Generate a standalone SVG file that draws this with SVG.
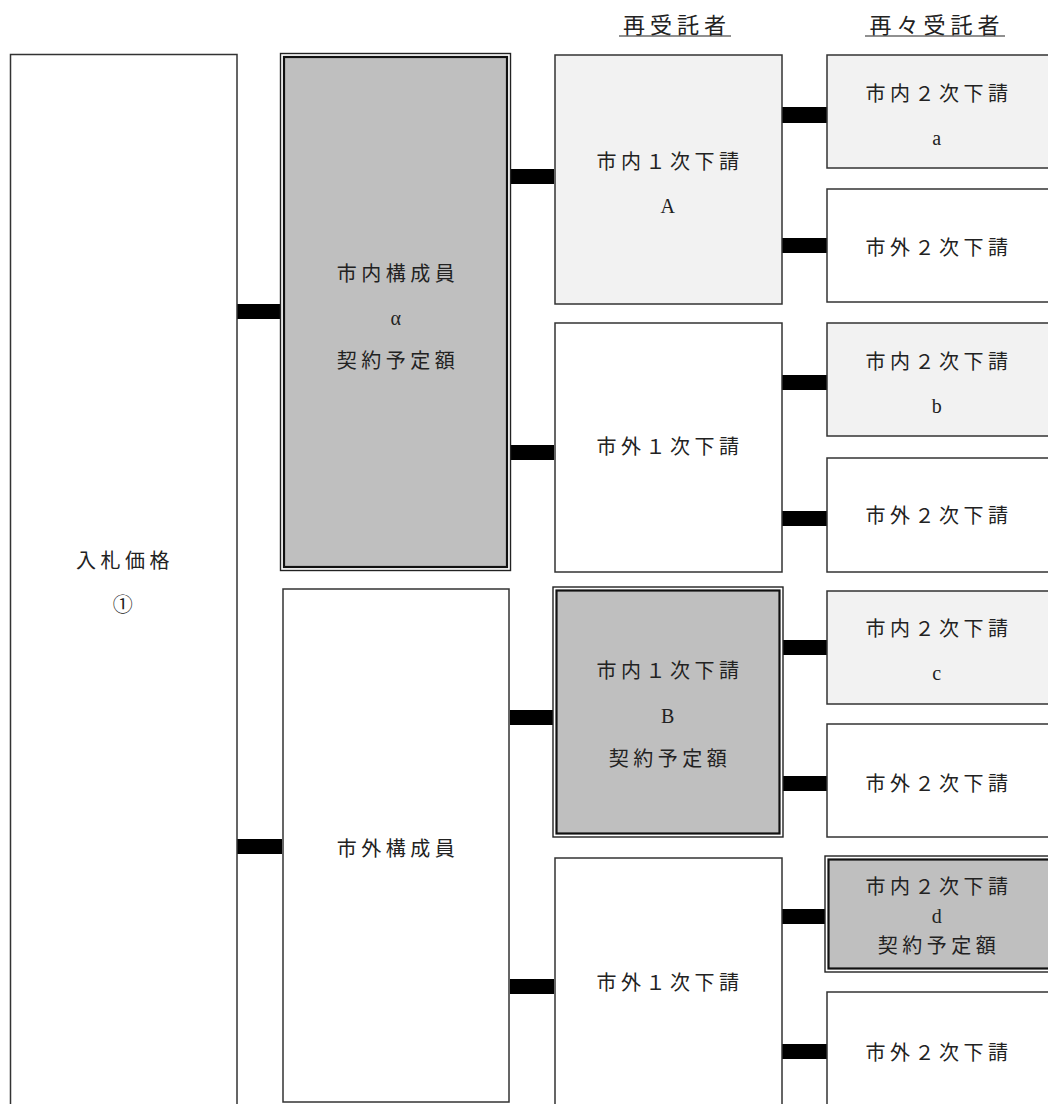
<svg xmlns="http://www.w3.org/2000/svg" width="1048" height="1104" viewBox="0 0 1048 1104">
<style>
.b{fill:#fff;stroke:#333;stroke-width:1.5}
.l{fill:#f2f2f2;stroke:#333;stroke-width:1.5}
.go{fill:#fff;stroke:#222;stroke-width:1.4}
.gi{fill:#bfbfbf;stroke:#111;stroke-width:2.2}
.bar{fill:#000}
text{font-family:"Liberation Serif","Noto Sans CJK JP",serif;font-size:20px;fill:#222;text-anchor:middle;letter-spacing:4.5px}
.h{font-size:22px;letter-spacing:5px}
</style>
<rect width="1048" height="1104" fill="#fff"/>
<g id="headers">
<text class="h" x="677" y="33">再受託者</text>
<line x1="619" y1="36" x2="731" y2="36" stroke="#222" stroke-width="1.2"/>
<text class="h" x="937" y="33">再々受託者</text>
<line x1="865" y1="36" x2="1005" y2="36" stroke="#222" stroke-width="1.2"/>
</g>
<g id="connectors">
<rect class="bar" x="237" y="304" width="45" height="15"/>
<rect class="bar" x="237" y="839" width="45" height="15"/>
<rect class="bar" x="510" y="169" width="44" height="15"/>
<rect class="bar" x="510" y="445" width="44" height="15"/>
<rect class="bar" x="510" y="710" width="44" height="15"/>
<rect class="bar" x="510" y="979" width="44" height="15"/>
<rect class="bar" x="782" y="107" width="45" height="16"/>
<rect class="bar" x="782" y="238" width="45" height="15"/>
<rect class="bar" x="782" y="375" width="45" height="15"/>
<rect class="bar" x="782" y="511" width="45" height="15"/>
<rect class="bar" x="782" y="640" width="45" height="15"/>
<rect class="bar" x="782" y="776" width="45" height="15"/>
<rect class="bar" x="782" y="909" width="45" height="15"/>
<rect class="bar" x="782" y="1044" width="45" height="15"/>
</g>
<g id="n-bid">
<rect class="b" x="10.5" y="54.5" width="226.5" height="1060"/>
<text x="125" y="568">入札価格</text>
<text x="125" y="612">①</text>
</g>
<g id="n-member-in">
<rect class="go" x="280.5" y="53.5" width="230" height="517"/>
<rect class="gi" x="284" y="57" width="223" height="510"/>
<text x="398" y="281">市内構成員</text>
<text x="398" y="325">α</text>
<text x="398" y="368">契約予定額</text>
</g>
<g id="n-member-out">
<rect class="b" x="283" y="589" width="226" height="513"/>
<text x="398" y="856">市外構成員</text>
</g>
<g id="n-sub1-A">
<rect class="l" x="555" y="55" width="227" height="249"/>
<text x="670" y="169">市内１次下請</text>
<text x="670" y="213">A</text>
</g>
<g id="n-sub1-out1">
<rect class="b" x="555" y="323" width="227" height="249"/>
<text x="670" y="454">市外１次下請</text>
</g>
<g id="n-sub1-B">
<rect class="go" x="553" y="587" width="230" height="250"/>
<rect class="gi" x="556.5" y="590.5" width="223" height="243"/>
<text x="670" y="678">市内１次下請</text>
<text x="670" y="723">B</text>
<text x="670" y="766">契約予定額</text>
</g>
<g id="n-sub1-out2">
<rect class="b" x="555" y="858" width="227" height="260"/>
<text x="670" y="990">市外１次下請</text>
</g>
<g id="n-sub2-a">
<rect class="l" x="827" y="55" width="230" height="113"/>
<text x="939" y="101">市内２次下請</text>
<text x="939" y="145">a</text>
</g>
<g id="n-sub2-out1">
<rect class="b" x="827" y="189" width="230" height="113"/>
<text x="939" y="255">市外２次下請</text>
</g>
<g id="n-sub2-b">
<rect class="l" x="827" y="323" width="230" height="113"/>
<text x="939" y="369">市内２次下請</text>
<text x="939" y="413">b</text>
</g>
<g id="n-sub2-out2">
<rect class="b" x="827" y="458" width="230" height="114"/>
<text x="939" y="523">市外２次下請</text>
</g>
<g id="n-sub2-c">
<rect class="l" x="827" y="591" width="230" height="113"/>
<text x="939" y="636">市内２次下請</text>
<text x="939" y="680">c</text>
</g>
<g id="n-sub2-out3">
<rect class="b" x="827" y="724" width="230" height="113"/>
<text x="939" y="791">市外２次下請</text>
</g>
<g id="n-sub2-d">
<rect class="go" x="825" y="856" width="232" height="116"/>
<rect class="gi" x="828.5" y="859.5" width="225" height="109"/>
<text x="939" y="894">市内２次下請</text>
<text x="939" y="923">d</text>
<text x="939" y="953">契約予定額</text>
</g>
<g id="n-sub2-out4">
<rect class="b" x="827" y="992" width="230" height="130"/>
<text x="939" y="1060">市外２次下請</text>
</g>
</svg>
